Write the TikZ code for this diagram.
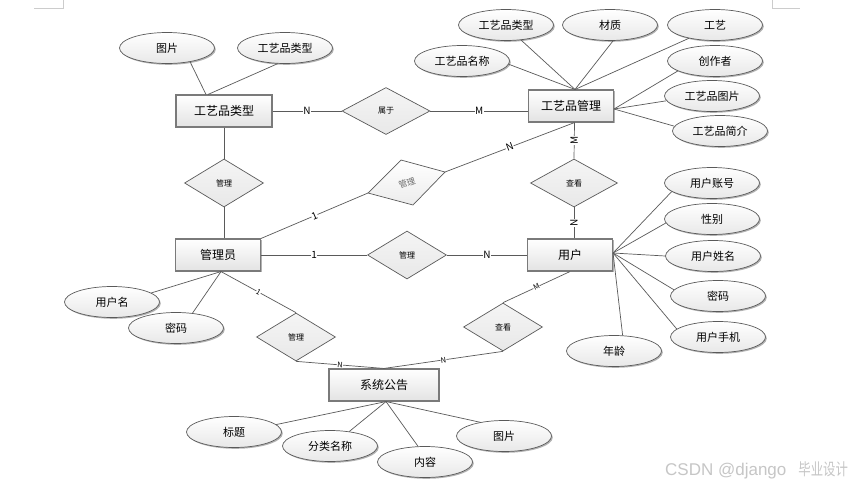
\documentclass[tikz,border=0pt]{standalone}
\usepackage{fontspec}
\usepackage{graphicx}
\setmainfont{Noto Sans CJK SC}
\newfontfamily\wmfont{Liberation Sans}
\usetikzlibrary{shapes.geometric,shadows}
\definecolor{linec}{HTML}{5A5A5A}
\definecolor{bordc}{HTML}{7A7A7A}
\begin{document}
\begin{tikzpicture}[x=1pt,y=-1pt,
  shd/.style={drop shadow={shadow xshift=1.3pt,shadow yshift=-1.3pt,opacity=0.3,fill=black}},
  ent/.style={rectangle,draw=bordc,line width=1.1pt,minimum height=32pt,inner sep=0pt,
    top color=white,bottom color=gray!22,shd,font=\fontsize{12}{14}\selectfont},
  attr/.style={ellipse,draw=linec,line width=0.7pt,minimum width=95pt,minimum height=31pt,inner sep=0pt,
    top color=white,bottom color=gray!18,shd,font=\fontsize{11}{13}\selectfont},
  rel/.style={diamond,draw=linec,line width=0.7pt,minimum width=79pt,minimum height=48pt,inner sep=0pt,
    top color=gray!8,bottom color=gray!18,font=\fontsize{8}{9}\selectfont},
  lnk/.style={draw=linec,line width=0.7pt},
  lab/.style={fill=white,inner sep=0.4pt,font=\fontsize{10}{11}\selectfont},
  slab/.style={fill=white,inner sep=0.3pt,font=\fontsize{7.5}{8}\selectfont}
]
\useasboundingbox (0,0) rectangle (856,485);
\fill[white] (0,0) rectangle (856,485);
% page corner marks
\draw[gray!40,line width=0.6pt] (34,8) -- (63,8) -- (63,0);
\draw[gray!40,line width=0.6pt] (772,0) -- (772,8) -- (800,8);

% entities
\node[ent,minimum width=96pt] (t) at (224,111) {工艺品类型};
\node[ent,minimum width=85pt] (g) at (571,106) {工艺品管理};
\node[ent,minimum width=85pt] (a) at (218,255) {管理员};
\node[ent,minimum width=85pt] (u) at (570,255) {用户};
\node[ent,minimum width=110pt] (s) at (384,385) {系统公告};

% relationships
\node[rel,minimum width=88pt,minimum height=47pt] (d1) at (386,111) {属于};
\node[rel] (d2) at (224,183) {管理};
\node[rel,minimum width=87pt] (d4) at (574,183) {查看};
\node[rel] (d5) at (407,255) {管理};
\node[rel] (d6) at (296,337) {管理};
\node[rel] (d7) at (503,327) {查看};
\coordinate (d3l) at (368,193);
\coordinate (d3t) at (401,160);
\coordinate (d3r) at (445,172);
\coordinate (d3b) at (413,205);
\shade[top color=white,bottom color=gray!15,draw=linec,line width=0.7pt] (d3l) -- (d3t) -- (d3r) -- (d3b) -- cycle;
\node[rotate=20,inner sep=0pt,text=gray!85!black,font=\fontsize{8.5}{9}\selectfont] (d3) at (407,183) {管理};

% attributes
\node[attr] (e1) at (167,48) {图片};
\node[attr] (e2) at (285,48) {工艺品类型};
\node[attr] (e3) at (506,25) {工艺品类型};
\node[attr] (e4) at (610,25) {材质};
\node[attr] (e5) at (715,25) {工艺};
\node[attr] (e6) at (462,61) {工艺品名称};
\node[attr] (e7) at (715,61) {创作者};
\node[attr] (e8) at (712,96) {工艺品图片};
\node[attr] (e9) at (720,131) {工艺品简介};
\node[attr] (e10) at (712,183) {用户账号};
\node[attr] (e11) at (712,219) {性别};
\node[attr] (e12) at (713,256) {用户姓名};
\node[attr] (e13) at (718,296) {密码};
\node[attr] (e14) at (718,337) {用户手机};
\node[attr] (e15) at (614,351) {年龄};
\node[attr] (e16) at (112,302) {用户名};
\node[attr] (e17) at (176,328) {密码};
\node[attr] (e18) at (234,432) {标题};
\node[attr] (e19) at (330,446) {分类名称};
\node[attr] (e20) at (425,462) {内容};
\node[attr] (e21) at (504,436) {图片};

% hubs
\coordinate (gt) at ([xshift=4pt]g.north);
\coordinate (gr) at ([yshift=-3pt]g.east);
\coordinate (ur) at ([yshift=2pt]u.east);
\coordinate (ab) at ([xshift=3pt]a.south);
\coordinate (sb) at ([xshift=2pt]s.south);
\coordinate (gb) at ([xshift=3.5pt]g.south);

% attribute links
\draw[lnk] (e1.-31) -- ([xshift=-18pt]t.north);
\draw[lnk] (e2.-115) -- ([xshift=-16pt]t.north);
\draw[lnk] (e3.-45) -- (gt);
\draw[lnk] (e4.-79) -- (gt);
\draw[lnk] (e5.-153) -- (gt);
\draw[lnk] (e6.-4) -- (gt);
\draw[lnk] (e7.-165) -- (gr);
\draw[lnk] (e8.-174) -- (gr);
\draw[lnk] (e9.174) -- (gr);
\draw[lnk] (e10.-168) -- (ur);
\draw[lnk] (e11.-175) -- (ur);
\draw[lnk] (e12.180) -- (ur);
\draw[lnk] (e13.172) -- (ur);
\draw[lnk] (e14.169) -- (ur);
\draw[lnk] (e15.61) -- (ur);
\draw[lnk] (e16.13) -- (ab);
\draw[lnk] (e17.42) -- (ab);
\draw[lnk] (e18.10) -- (sb);
\draw[lnk] (e19.37) -- (sb);
\draw[lnk] (e20.114) -- (sb);
\draw[lnk] (e21.150) -- (sb);

% relationship links
\draw[lnk] (t.east) -- node[lab] {N} (d1.west);
\draw[lnk] (d1.east) -- node[lab] {M} (g.west |- d1.east);
\draw[lnk] (t.south) -- (d2.north);
\draw[lnk] (d2.south) -- (d2.south |- a.north);
\draw[lnk] (a.north east) -- node[lab,sloped] {1} (d3l);
\draw[lnk] (d3r) -- node[lab,sloped] {N} (gb);
\draw[lnk] (gb) -- node[lab,rotate=90] {M} (d4.north);
\draw[lnk] (d4.south) -- node[lab,rotate=90] {N} (d4.south |- u.north);
\draw[lnk] (a.east) -- node[lab] {1} (d5.west);
\draw[lnk] (d5.east) -- node[lab] {N} (u.west);
\draw[lnk] (ab) -- node[slab,sloped] {1} (d6.north);
\draw[lnk] (d6.south) -- node[slab,sloped] {N} (s.north);
\draw[lnk] (s.north) -- node[slab,sloped] {N} (d7.south);
\draw[lnk] (d7.north) -- node[slab,sloped] {M} (u.south);

% watermark
\node[text=gray!45,anchor=west,inner sep=0pt] (wm) at (665,470) {{\wmfont\fontsize{17}{19}\selectfont CSDN @django}\hspace{12pt}\scalebox{0.75}[1]{\fontsize{16.5}{18}\selectfont 毕业设计}};
\end{tikzpicture}
\end{document}
